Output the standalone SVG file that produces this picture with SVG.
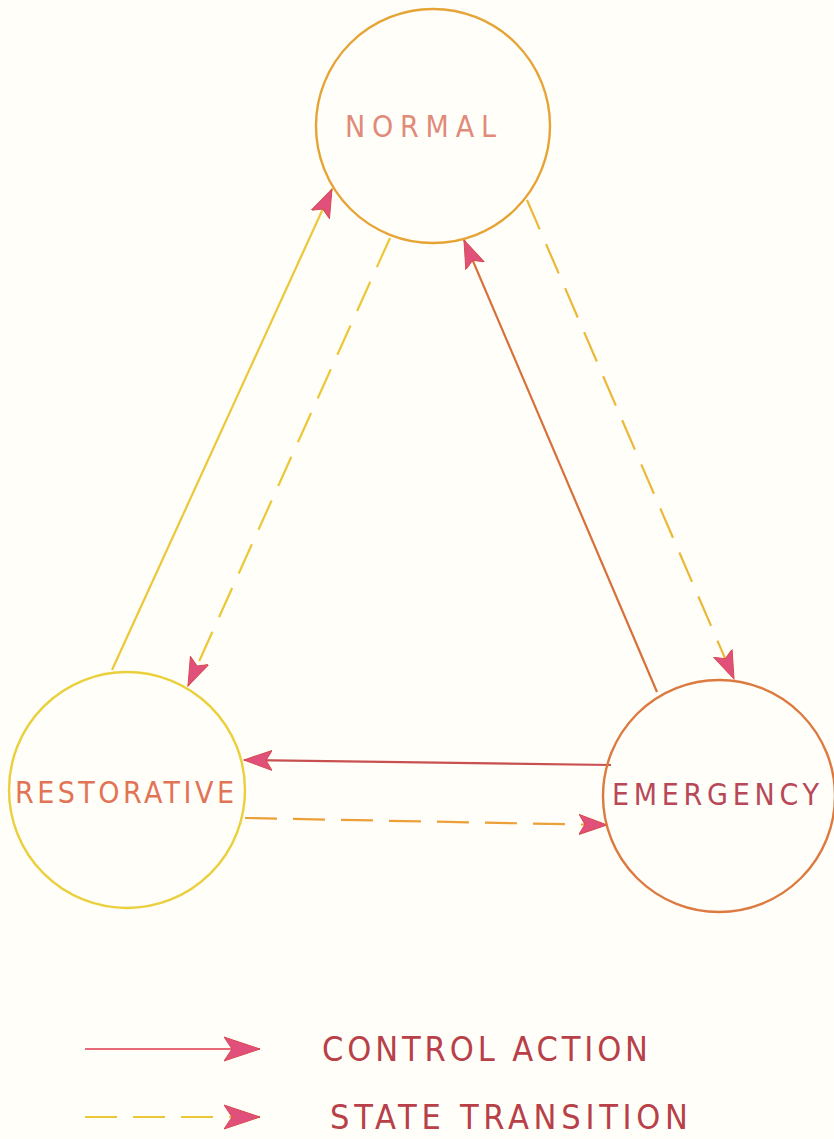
<svg xmlns="http://www.w3.org/2000/svg" width="834" height="1139" viewBox="0 0 834 1139">
<defs>
<marker id="ah" markerUnits="userSpaceOnUse" markerWidth="30" markerHeight="22" viewBox="0 0 30 22" refX="28" refY="11" orient="auto">
<path d="M0,1 L28,11 L0,21 L6,11 Z" fill="#e0507a" stroke="#d84a50" stroke-width="1"/>
</marker>
<marker id="ahl" markerUnits="userSpaceOnUse" markerWidth="38" markerHeight="26" viewBox="0 0 38 26" refX="36" refY="13" orient="auto">
<path d="M0,1 L36,13 L0,25 L8,13 Z" fill="#e0507a" stroke="#d84a50" stroke-width="1"/>
</marker>
</defs>
<style>
.node circle{fill:none;stroke-width:2.4}
.lbl{font-family:"DejaVu Sans Condensed","DejaVu Sans","Liberation Sans",sans-serif;font-size:30px}
.solid{fill:none;stroke-width:2.2}
.dash{fill:none;stroke-width:2.2;stroke-dasharray:32 16}
.leg{font-family:"DejaVu Sans Condensed","DejaVu Sans","Liberation Sans",sans-serif;font-size:34px;fill:#b84048}
</style>
<rect width="834" height="1139" fill="#fffef9"/>
<g id="connectors">
<line class="solid" x1="112" y1="670" x2="332" y2="189" stroke="#ecc838" marker-end="url(#ah)"/>
<line class="dash" x1="390" y1="238" x2="188" y2="686" stroke="#ecc838" marker-end="url(#ah)"/>
<line class="solid" x1="657" y1="692" x2="464" y2="240" stroke="#d8703a" marker-end="url(#ah)"/>
<line class="dash" x1="527" y1="200" x2="734" y2="679" stroke="#ecb838" marker-end="url(#ah)"/>
<line class="solid" x1="611" y1="765" x2="244" y2="760" stroke="#c85050" marker-end="url(#ah)"/>
<line class="dash" x1="245" y1="818" x2="607" y2="825" stroke="#eca038" marker-end="url(#ah)"/>
</g>
<g id="normal" class="node">
<circle cx="433" cy="126" r="117" stroke="#e6a436"/>
<text class="lbl" x="345" y="137" textLength="151" lengthAdjust="spacing" fill="#e08a7a">NORMAL</text>
</g>
<g id="restorative" class="node">
<circle cx="127" cy="790" r="118" stroke="#ead03c"/>
<text class="lbl" x="15" y="803" textLength="219" lengthAdjust="spacing" fill="#e27456">RESTORATIVE</text>
</g>
<g id="emergency" class="node">
<circle cx="719" cy="796" r="116" stroke="#dc7a40"/>
<text class="lbl" x="612" y="805" textLength="207" lengthAdjust="spacing" fill="#b84858">EMERGENCY</text>
</g>
<g id="legend">
<line class="solid" x1="85" y1="1049" x2="260" y2="1049" stroke="#e86a78" marker-end="url(#ahl)"/>
<text class="leg" x="322" y="1061" textLength="326" lengthAdjust="spacing">CONTROL ACTION</text>
<line class="dash" x1="85" y1="1117" x2="260" y2="1117" stroke="#ecc838" stroke-dasharray="28 22" marker-end="url(#ahl)"/>
<text class="leg" x="330" y="1129" textLength="358" lengthAdjust="spacing">STATE TRANSITION</text>
</g>
</svg>
